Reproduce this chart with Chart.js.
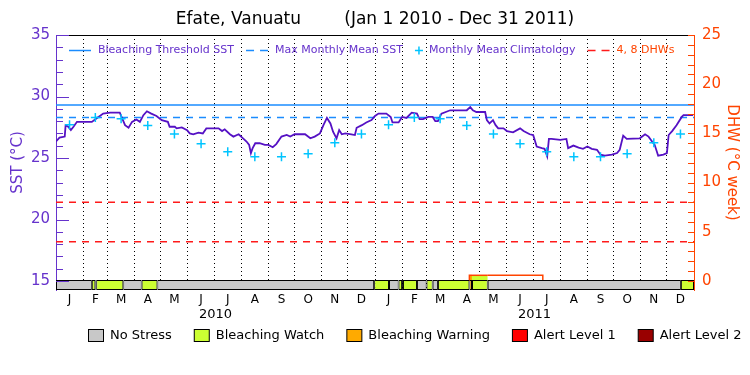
<!DOCTYPE html>
<html>
<head>
<meta charset="utf-8">
<title>Efate, Vanuatu</title>
<script src="https://cdn.jsdelivr.net/npm/chart.js@4"></script>
<style>
  html, body { margin: 0; padding: 0; background: #fff; }
</style>
</head>
<body>
<canvas id="chart" width="750" height="375"></canvas>
<script>
// calendar (2010 and 2011 are not leap years)
const monthLetters = ['J', 'F', 'M', 'A', 'M', 'J', 'J', 'A', 'S', 'O', 'N', 'D'];
const monthLengths = [31, 28, 31, 30, 31, 30, 31, 31, 30, 31, 30, 31];
const yearLabels = ['2010', '2011'];
const lastDay = 730;

// satellite SST (day since Jan 1 2010, deg C)
const sstDays = [0, 4, 10, 11, 14, 17, 20, 24, 41, 47, 54, 62, 73, 75, 79, 83, 87, 92, 96, 100,
  104, 109, 115, 121, 128, 130, 136, 138, 144, 150, 153, 157, 163, 168, 172, 186, 190, 193, 199, 203,
  209, 214, 218, 221, 223, 225, 228, 233, 239, 243, 248, 252, 258, 264, 268, 273, 285, 291, 296, 302,
  306, 310, 314, 317, 321, 324, 327, 331, 338, 342, 344, 350, 355, 361, 365, 369, 378, 383, 385, 392,
  396, 401, 407, 413, 416, 420, 426, 431, 434, 437, 441, 451, 470, 474, 477, 481, 491, 493, 496, 500,
  503, 506, 512, 516, 523, 531, 535, 542, 546, 550, 556, 559, 562, 564, 567, 577, 584, 586, 592, 598,
  603, 608, 613, 619, 623, 628, 636, 642, 645, 649, 653, 668, 674, 678, 682, 685, 689, 695, 699, 701,
  705, 710, 716, 718, 729];
const sstValues = [26.34, 26.66, 26.74, 27.67, 27.54, 27.27, 27.54, 27.94, 27.94, 28.26, 28.61, 28.69, 28.69, 28.34, 27.67, 27.46, 27.94, 28.13, 27.94, 28.48,
  28.8, 28.61, 28.42, 28.08, 27.94, 27.54, 27.54, 27.41, 27.49, 27.27, 27.0, 26.93, 27.06, 27.0, 27.41, 27.41, 27.19, 27.33, 26.93, 26.74,
  26.93, 26.6, 26.34, 26.07, 25.4, 25.8, 26.2, 26.2, 26.07, 26.07, 25.88, 26.13, 26.74, 26.87, 26.74, 26.93, 26.93, 26.6, 26.74, 27.0,
  27.67, 28.26, 27.81, 27.14, 26.6, 27.27, 26.93, 27.0, 26.93, 26.87, 27.46, 27.67, 27.89, 28.08, 28.42, 28.61, 28.61, 28.34, 27.89, 27.89,
  28.34, 28.26, 28.69, 28.61, 28.16, 28.16, 28.34, 28.34, 28.0, 28.0, 28.61, 28.88, 28.88, 29.14, 28.88, 28.74, 28.74, 28.08, 27.81, 28.08,
  27.67, 27.41, 27.41, 27.19, 27.09, 27.41, 27.19, 26.93, 26.87, 25.93, 25.8, 25.75, 25.13, 26.55, 26.55, 26.47, 26.55, 25.8, 26.01, 25.85,
  25.75, 25.93, 25.75, 25.67, 25.27, 25.19, 25.27, 25.4, 25.67, 26.82, 26.55, 26.6, 26.93, 26.74, 26.34, 26.07, 25.19, 25.27, 25.4, 26.87,
  27.19, 27.67, 28.34, 28.48, 28.48];

// monthly mean climatology, Jan..Dec
const climatology = [27.7, 28.3, 28.2, 27.65, 26.95, 26.15, 25.5, 25.1, 25.1, 25.35, 26.25, 26.95];
const mmmSst = 28.3;
const thresholdSst = 29.3;

// degree heating weeks
const dhwLevels = [4, 8];
const dhwDays = [473, 473, 476, 494, 557, 557];
const dhwValues = [0, 0.58, 0.58, 0.58, 0.58, 0];

// bleaching alert strip: each period runs from its start day to the next one
const stressNames = ['No Stress', 'Bleaching Watch', 'Bleaching Warning', 'Alert Level 1', 'Alert Level 2'];
const stressColors = ['#c8c8c8', '#ccff33', '#ffaa00', '#ff0000', '#990000'];
const stressStart = [0, 41, 45, 46, 77, 98, 116, 364, 381, 392, 396, 397, 413, 424, 431, 437, 473, 476, 494, 715];
const stressLevel = [0, 1, 0, 1, 0, 1, 0, 1, 0, 1, 0, 1, 0, 1, 0, 1, 2, 1, 0, 1];

const sstTicks = [15, 20, 25, 30, 35];
const dhwTicks = [0, 5, 10, 15, 20, 25];

const purple = '#6633cc';
const sstColor = '#5511c4';
const blue = '#1a8cff';
const cyan = '#00c4ff';
const red = '#ff1a1a';
const orange = '#ff4400';

const monthStarts = [];
const monthMids = [];
let dayCount = 0;
for (let y = 0; y < yearLabels.length; y++) {
  for (const len of monthLengths) {
    monthStarts.push(dayCount);
    monthMids.push(dayCount + len / 2);
    dayCount += len;
  }
}
const yearMids = yearLabels.map((_, i) => i * 365 + 182.5);

function stressAt(day) {
  let level = 0;
  stressStart.forEach((s, i) => { if (day >= s) level = stressLevel[i]; });
  return level;
}

const stressDatasets = stressNames.map((name, level) => ({
  type: 'bar',
  label: name,
  indexAxis: 'y',
  xAxisID: 'x',
  yAxisID: 'ys',
  data: stressStart
    .map((start, i) => ({ start, end: i + 1 < stressStart.length ? stressStart[i + 1] : lastDay, level: stressLevel[i] }))
    .filter(p => p.level === level)
    .map(p => ({ x: [p.start, p.end], y: 0.5 })),
  backgroundColor: stressColors[level],
  borderColor: '#000',
  borderWidth: 1,
  borderSkipped: false,
  grouped: false,
  maxBarThickness: 10,
  order: 0
}));

const flat = v => [{ x: 0, y: v }, { x: lastDay, y: v }];

const datasets = [
  ...stressDatasets,
  {
    type: 'line', label: 'Monthly Mean Climatology', yAxisID: 'y',
    data: monthMids.map((x, i) => ({ x, y: climatology[i % 12] })),
    showLine: false, pointStyle: 'cross', pointRadius: 4.5,
    pointBorderColor: cyan, pointBorderWidth: 1.5, order: 1
  },
  {
    type: 'line', label: 'SST', yAxisID: 'y',
    data: sstDays.map((x, i) => ({ x, y: sstValues[i] })),
    borderColor: sstColor, borderWidth: 1.8, pointRadius: 0, order: 2
  },
  {
    type: 'line', label: 'DHW', yAxisID: 'yR',
    data: dhwDays.map((x, i) => ({ x, y: dhwValues[i] })),
    borderColor: orange, borderWidth: 1.5, pointRadius: 0,
    fill: 'origin', backgroundColor: 'rgba(0,0,0,0)',
    segment: {
      backgroundColor: ctx => {
        const level = stressAt((ctx.p0.parsed.x + ctx.p1.parsed.x) / 2);
        return level > 0 ? stressColors[level] : 'rgba(0,0,0,0)';
      }
    },
    order: 3
  },
  {
    type: 'line', label: 'Bleaching Threshold SST', yAxisID: 'y', data: flat(thresholdSst),
    borderColor: blue, borderWidth: 1.5, pointRadius: 0, order: 4
  },
  {
    type: 'line', label: 'Max Monthly Mean SST', yAxisID: 'y', data: flat(mmmSst),
    borderColor: blue, borderWidth: 1.5, borderDash: [7, 6], pointRadius: 0, order: 4
  },
  ...dhwLevels.map(v => ({
    type: 'line', label: v + ' DHW', yAxisID: 'yR', data: flat(v),
    borderColor: red, borderWidth: 1.5, borderDash: [7, 6], pointRadius: 0, order: 5
  }))
];

// legend drawn along the top of the plot
const topLegendItems = [
  { text: 'Bleaching Threshold SST', kind: 'line', color: blue, dash: [], textColor: purple },
  { text: 'Max Monthly Mean SST', kind: 'line', color: blue, dash: [8, 6], textColor: purple },
  { text: 'Monthly Mean Climatology', kind: 'cross', color: cyan, textColor: purple },
  { text: '4, 8 DHWs', kind: 'line', color: red, dash: [8, 6], textColor: orange }
];

const topLegend = {
  id: 'topLegend',
  afterDraw(chart) {
    const { ctx, chartArea } = chart;
    const y = chartArea.top + 15.5;
    let x = chartArea.left + 13;
    ctx.save();
    ctx.font = '11px "DejaVu Sans"';
    ctx.textBaseline = 'middle';
    ctx.lineWidth = 1.5;
    for (const item of topLegendItems) {
      ctx.strokeStyle = item.color;
      let w;
      if (item.kind === 'line') {
        ctx.setLineDash(item.dash);
        ctx.beginPath();
        ctx.moveTo(x, y);
        ctx.lineTo(x + 22, y);
        ctx.stroke();
        ctx.setLineDash([]);
        w = 29;
      } else {
        ctx.beginPath();
        ctx.moveTo(x, y); ctx.lineTo(x + 8, y);
        ctx.moveTo(x + 4, y - 4); ctx.lineTo(x + 4, y + 4);
        ctx.stroke();
        w = 14;
      }
      ctx.fillStyle = item.textColor;
      ctx.fillText(item.text, x + w, y);
      x += w + ctx.measureText(item.text).width + 12;
    }
    ctx.restore();
  }
};

// stress legend under the axis
const stressLegend = {
  id: 'stressLegend',
  afterDraw(chart) {
    const { ctx, chartArea } = chart;
    const y = chartArea.bottom + 46;
    let x = chartArea.left + 32;
    ctx.save();
    ctx.font = '13px "DejaVu Sans"';
    ctx.textBaseline = 'middle';
    ctx.lineWidth = 1;
    ctx.strokeStyle = '#000';
    stressNames.forEach((name, i) => {
      ctx.fillStyle = stressColors[i];
      ctx.fillRect(x + 0.5, y - 6.5, 15, 12);
      ctx.strokeRect(x + 0.5, y - 6.5, 15, 12);
      ctx.fillStyle = '#000';
      ctx.fillText(name, x + 22, y);
      x += 22 + ctx.measureText(name).width + 22;
    });
    ctx.restore();
  }
};

// inward tick marks on both y axes and the top frame line
const frame = {
  id: 'frame',
  afterDraw(chart) {
    const { ctx, chartArea, scales } = chart;
    ctx.save();
    ctx.lineWidth = 1;
    ctx.strokeStyle = '#000';
    ctx.beginPath();
    ctx.moveTo(chartArea.left, chartArea.top + 0.5);
    ctx.lineTo(chartArea.right, chartArea.top + 0.5);
    ctx.stroke();

    ctx.strokeStyle = purple;
    for (let v = sstTicks[0]; v <= sstTicks[sstTicks.length - 1]; v++) {
      const py = Math.round(scales.y.getPixelForValue(v)) + 0.5;
      const len = v % 5 === 0 ? 13 : 7;
      ctx.beginPath();
      ctx.moveTo(chartArea.left, py);
      ctx.lineTo(chartArea.left + len, py);
      ctx.stroke();
    }
    ctx.strokeStyle = orange;
    for (let v = dhwTicks[0]; v <= dhwTicks[dhwTicks.length - 1]; v++) {
      const py = Math.round(scales.yR.getPixelForValue(v)) + 0.5;
      ctx.beginPath();
      ctx.moveTo(chartArea.right, py);
      ctx.lineTo(chartArea.right - 6, py);
      ctx.stroke();
    }
    ctx.restore();
  }
};

Chart.defaults.font.family = '"DejaVu Sans", sans-serif';
Chart.defaults.color = '#000';

new Chart(document.getElementById('chart'), {
  type: 'line',
  data: { datasets },
  plugins: [topLegend, stressLegend, frame],
  options: {
    responsive: false,
    animation: false,
    events: [],
    layout: { padding: 0 },
    plugins: {
      tooltip: { enabled: false },
      legend: { display: false },
      title: {
        display: true,
        text: 'Efate, Vanuatu        (Jan 1 2010 - Dec 31 2011)',
        color: '#000',
        font: { size: 17, weight: 'normal' },
        padding: { top: 9.6, bottom: 5 }
      }
    },
    scales: {
      x: {
        type: 'linear', position: 'bottom', weight: 0, min: 0, max: lastDay,
        afterBuildTicks: s => { s.ticks = monthMids.map(v => ({ value: v })); },
        afterFit: s => { s.height = 16; },
        grid: { display: false, drawTicks: false },
        border: { display: false },
        ticks: {
          autoSkip: false, maxRotation: 0, padding: 3, color: '#000', font: { size: 12 },
          callback: (v, i) => monthLetters[i % 12]
        }
      },
      xYear: {
        type: 'linear', position: 'bottom', weight: 1, min: 0, max: lastDay,
        afterBuildTicks: s => { s.ticks = yearMids.map(v => ({ value: v })); },
        afterFit: s => { s.height = 69; },
        grid: { display: false, drawTicks: false },
        border: { display: false },
        ticks: {
          autoSkip: false, maxRotation: 0, padding: 1, color: '#000', font: { size: 13 },
          callback: (v, i) => yearLabels[i]
        }
      },
      xGrid: {
        type: 'linear', position: 'bottom', weight: -1, min: 0, max: lastDay,
        afterBuildTicks: s => { s.ticks = monthStarts.slice(1).map(v => ({ value: v })); },
        afterFit: s => { s.height = 0; },
        grid: { color: '#000', lineWidth: 1, drawTicks: false },
        border: { display: false, dash: [1, 3] },
        ticks: { display: false }
      },
      y: {
        type: 'linear', position: 'left', min: 14.27, max: 35,
        afterBuildTicks: s => { s.ticks = sstTicks.map(v => ({ value: v })); },
        afterFit: s => { s.width = 56; },
        grid: { display: false, drawTicks: false },
        border: { color: purple, width: 1 },
        ticks: { color: purple, font: { size: 15 }, padding: 6 },
        title: { display: true, text: 'SST (°C)', color: purple, font: { size: 15 }, padding: { top: 9, bottom: 0 } }
      },
      yR: {
        type: 'linear', position: 'right', min: -0.915, max: 25,
        afterBuildTicks: s => { s.ticks = dhwTicks.map(v => ({ value: v })); },
        afterFit: s => { s.width = 56; },
        grid: { display: false, drawTicks: false },
        border: { color: orange, width: 1 },
        ticks: { color: orange, font: { size: 15 }, padding: 8 },
        title: { display: true, text: 'DHW (°C week)', color: orange, font: { size: 15 }, padding: { top: 9, bottom: 0 } }
      },
      ys: { type: 'linear', display: false, offset: false, grid: { offset: false }, min: 0, max: 25.5 }
    }
  }
});
</script>
</body>
</html>
